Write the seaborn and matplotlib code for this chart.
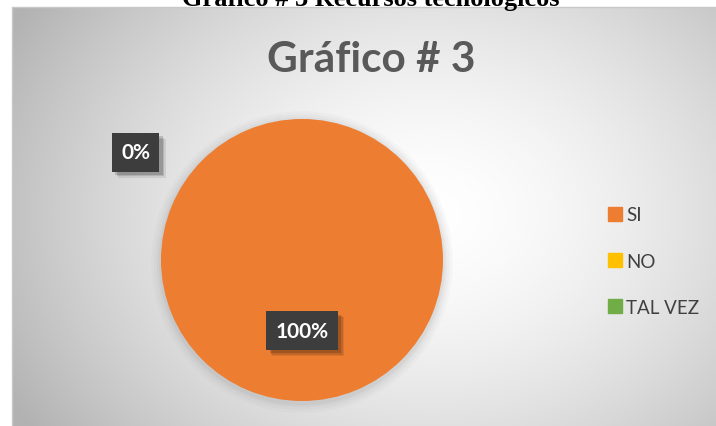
import numpy as np
import matplotlib
matplotlib.use("Agg")
import matplotlib.pyplot as plt
import matplotlib.patheffects as pe
from matplotlib.lines import Line2D
from matplotlib.patches import Circle
import seaborn as sns

# Survey answers for chart #3
categories = ["SI", "NO", "TAL VEZ"]
values = [100, 0, 0]
colors = ["#ED7D31", "#FFC000", "#70AD47"]
title = "Gráfico # 3"
caption = "Gráfico # 3 Recursos tecnológicos"

sns.set_theme(style="white")
plt.rcParams["font.family"] = ["Lato", "DejaVu Sans"]

W, H, DPI = 716, 427, 100
fig = plt.figure(figsize=(W / DPI, H / DPI), dpi=DPI, facecolor="white")

# Caption above the chart frame (partly cut by the page edge)
fig.text(371 / W, 1 - 6 / H, caption, ha="center", va="baseline",
         fontsize=19, fontweight="bold", family="Liberation Serif", color="black")

# Chart frame with a soft radial gradient
box_l, box_t = 12, 8
bg = fig.add_axes([box_l / W, 0, 1 - box_l / W, 1 - box_t / H], zorder=0)
gx = np.linspace(box_l, W, 400)
gy = np.linspace(box_t, H, 260)
X, Y = np.meshgrid(gx, gy)
d = np.sqrt(((X - 430) / 420) ** 2 + ((Y - 215) / 330) ** 2)
shade = 1.0 - 0.24 * np.clip(d, 0, 1.15) ** 1.6
img = np.dstack([shade, shade, shade])
bg.imshow(img, extent=[0, 1, 0, 1], aspect="auto", origin="upper", interpolation="bilinear")
bg.set_xlim(0, 1)
bg.set_ylim(0, 1)
bg.axis("off")
fig.add_artist(plt.Line2D([box_l / W, box_l / W], [0, 1 - box_t / H], color="#c8c8c8", lw=1))
fig.add_artist(plt.Line2D([box_l / W, 1], [1 - box_t / H, 1 - box_t / H], color="#c8c8c8", lw=1))

fig.text(371 / W, 1 - 60 / H, title, ha="center", va="center",
         fontsize=30.5, fontweight="bold", color="#595959")

# Pie
cx, cy, r = 302, 261, 141
k = 1.6
ax = fig.add_axes([(cx - r * k) / W, (H - cy - r * k) / H, 2 * r * k / W, 2 * r * k / H], zorder=2)
ax.set_facecolor("none")
for rr, a in [(1.07, 0.04), (1.05, 0.05), (1.03, 0.06), (1.015, 0.08)]:
    ax.add_patch(Circle((0.0, -0.015), rr, color="#7a7a7a", alpha=a, lw=0, zorder=0))
wedges, _ = ax.pie(values, colors=colors, startangle=90, counterclock=False,
                   radius=1.0, wedgeprops=dict(linewidth=0))
ax.set_xlim(-k, k)
ax.set_ylim(-k, k)
ax.set_aspect("equal")
ax.axis("off")

# soft drop shadow for the label boxes
box_shadow = [pe.SimplePatchShadow(offset=(4.5, -4.5), shadow_rgbFace="black", alpha=0.08),
              pe.SimplePatchShadow(offset=(3.5, -3.5), shadow_rgbFace="black", alpha=0.12),
              pe.SimplePatchShadow(offset=(2.5, -2.5), shadow_rgbFace="black", alpha=0.16),
              pe.Normal()]

def label_box(x, y, txt):
    t = ax.text(x, y, txt, ha="center", va="center", fontsize=15, fontweight="bold",
                color="white", zorder=5, clip_on=False,
                bbox=dict(boxstyle="square,pad=0.45", facecolor="#3d3d3d", linewidth=0))
    t.get_bbox_patch().set_path_effects(box_shadow)
    return t

total = sum(values)
for w, v in zip(wedges, values):
    pct = f"{v / total * 100:.0f}%"
    if v > 0:
        ang = np.deg2rad((w.theta1 + w.theta2) / 2)
        label_box(0.5 * np.cos(ang), 0.5 * np.sin(ang), pct)
# zero-size slices share one label placed outside the pie, upper left
label_box(-1.18, 0.765, f"{0 / total * 100:.0f}%")

handles = [Line2D([0], [0], marker="s", linestyle="none", markersize=9.5,
                  markerfacecolor=c, markeredgecolor=c) for c in colors]
fig.legend(handles, categories, loc="center left", bbox_to_anchor=(598 / W, 1 - 262 / H),
           frameon=False, fontsize=13.5, labelcolor="#404040", labelspacing=1.55,
           handlelength=0.8, handletextpad=0.2, borderpad=0)

fig.savefig("out.png", dpi=DPI, facecolor="white")
